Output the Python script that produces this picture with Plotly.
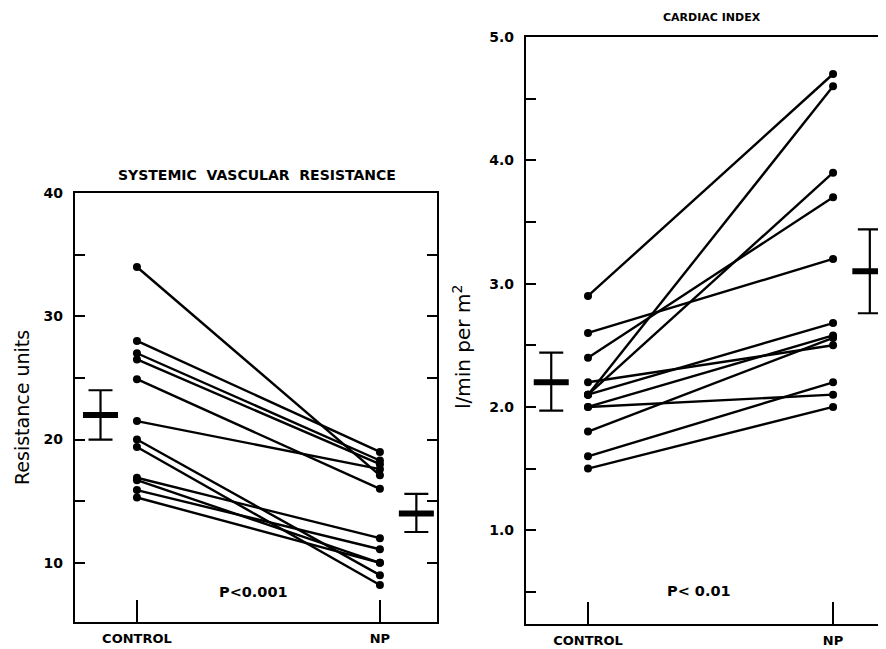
import plotly.graph_objects as go

# ---------------- data ----------------
groups = ["CONTROL", "NP"]

svr_control = [34.0, 28.0, 27.0, 26.5, 24.9, 21.5, 20.0, 19.4, 16.9, 16.7, 15.9, 15.3]
svr_np = [17.1, 19.0, 18.3, 18.0, 16.0, 17.6, 9.0, 8.2, 12.0, 10.0, 11.1, 10.0]
svr_mean = [22.0, 14.0]
svr_se_plus = [2.0, 1.6]
svr_se_minus = [2.0, 1.5]

ci_control = [2.9, 2.6, 2.4, 2.2, 2.1, 2.1, 2.1, 2.0, 2.0, 1.8, 1.6, 1.5]
ci_np = [4.7, 3.2, 3.7, 2.5, 4.6, 3.9, 2.68, 2.58, 2.1, 2.56, 2.2, 2.0]
ci_mean = [2.2, 3.1]
ci_se_plus = [0.24, 0.34]
ci_se_minus = [0.23, 0.34]

svr_ticks = [10, 15, 20, 25, 30, 35, 40]
svr_ticklabels = ["10", "", "20", "", "30", "", "40"]
ci_ticks = [0.5, 1.0, 1.5, 2.0, 2.5, 3.0, 3.5, 4.0, 4.5, 5.0]
ci_ticklabels = ["", "1.0", "", "2.0", "", "3.0", "", "4.0", "", "5.0"]

# ---------------- figure ----------------
# The page has an 8px body margin, so the figure is drawn 8px in from the corner.
OFF = 8
W, H = 886 - OFF, 649 - OFF
BAR_OFFSET = 0.15
FONT = "DejaVu Sans"


def px(x):
    return (x - OFF) / W


def py(y):
    return 1 - (y - OFF) / H


fig = go.Figure()


def add_pairs(ctrl, npv, xa, ya):
    xs, ys = [], []
    for c, n in zip(ctrl, npv):
        xs += [1, 2, None]
        ys += [c, n, None]
    fig.add_trace(go.Scatter(
        x=xs, y=ys, mode="lines+markers", xaxis=xa, yaxis=ya,
        line=dict(color="black", width=2.4),
        marker=dict(color="black", size=8),
        hoverinfo="skip", showlegend=False))


def add_means(mean, plus, minus, xa, ya):
    fig.add_trace(go.Scatter(
        x=[1 - BAR_OFFSET, 2 + BAR_OFFSET], y=mean, mode="markers",
        xaxis=xa, yaxis=ya,
        marker=dict(symbol="line-ew", size=25, color="black",
                    line=dict(color="black", width=6)),
        error_y=dict(type="data", array=plus, arrayminus=minus,
                     color="black", thickness=2.2, width=12),
        hoverinfo="skip", showlegend=False))


add_pairs(svr_control, svr_np, "x", "y")
add_means(svr_mean, svr_se_plus, svr_se_minus, "x", "y")
add_pairs(ci_control, ci_np, "x2", "y2")
add_means(ci_mean, ci_se_plus, ci_se_minus, "x2", "y2")

tickfont = dict(family=FONT, size=14, color="black", weight="bold")

xcommon = dict(tickvals=[1, 2], ticktext=groups, ticks="inside", ticklen=22,
               tickwidth=2.2, tickcolor="black", showline=True, linewidth=2.2,
               linecolor="black", mirror=True, showgrid=False, zeroline=False,
               tickfont=dict(family=FONT, size=13, color="black", weight="bold"),
               ticklabelstandoff=3, automargin=False, fixedrange=True)
ycommon = dict(ticks="inside", ticklen=10, tickwidth=2.2, tickcolor="black",
               showgrid=False, zeroline=False, tickfont=tickfont,
               ticklabelstandoff=7, automargin=False, fixedrange=True)

fig.update_layout(
    width=W, height=H,
    margin=dict(l=0, r=0, t=0, b=0),
    paper_bgcolor="white", plot_bgcolor="white",
    showlegend=False,
    xaxis=dict(domain=[px(75), px(437)], range=[0.745, 2.235], anchor="y", **xcommon),
    yaxis=dict(domain=[py(622), py(193)], range=[5.2, 40], anchor="x",
               tickvals=svr_ticks, ticktext=svr_ticklabels,
               showline=True, linewidth=2.2, linecolor="black", mirror="ticks",
               **ycommon),
    xaxis2=dict(domain=[px(526), 1.0], range=[0.747, 2.216], anchor="y2", **xcommon),
    yaxis2=dict(domain=[py(624), py(37)], range=[0.24, 5.0], anchor="x2",
                tickvals=ci_ticks, ticktext=ci_ticklabels,
                showline=True, linewidth=2.2, linecolor="black", mirror=False,
                **ycommon),
    yaxis3=dict(overlaying="y2", anchor="x2", side="right", range=[0.24, 5.0],
                tickvals=ci_ticks, showticklabels=False, showline=False,
                ticks="inside", ticklen=8, tickwidth=2.2, tickcolor="black",
                showgrid=False, zeroline=False, automargin=False, fixedrange=True),
)

ann = []
ann.append(dict(text="SYSTEMIC&nbsp; VASCULAR&nbsp; RESISTANCE", x=px(257), y=py(175),
                font=dict(family=FONT, size=14, color="black", weight="bold")))
ann.append(dict(text="CARDIAC INDEX", x=px(712), y=py(17),
                font=dict(family=FONT, size=11, color="black", weight="bold")))
ann.append(dict(text="Resistance units", x=px(22), y=py(408), textangle=-90,
                font=dict(family=FONT, size=19, color="black")))
ann.append(dict(text="l/min per m<sup>2</sup>", x=px(462), y=py(347), textangle=-90,
                font=dict(family=FONT, size=20, color="black")))
ann.append(dict(text="P&lt;0.001", x=px(253), y=py(592),
                font=dict(family=FONT, size=14.5, color="black", weight="bold")))
ann.append(dict(text="P&lt; 0.01", x=px(699), y=py(591),
                font=dict(family=FONT, size=14.5, color="black", weight="bold")))
for a in ann:
    a.update(xref="paper", yref="paper", showarrow=False, xanchor="center", yanchor="middle")
fig.update_layout(annotations=ann)

fig.write_html("out.html")
